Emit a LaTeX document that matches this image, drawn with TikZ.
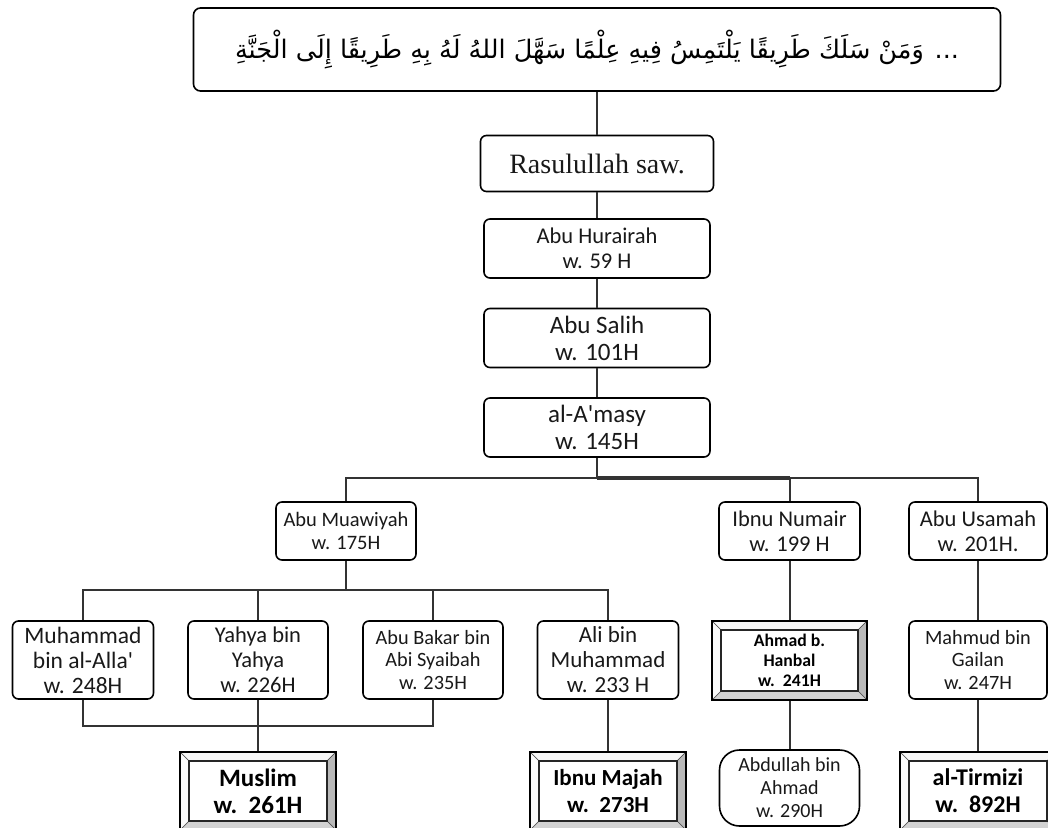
\documentclass[tikz,border=0pt]{standalone}
\usepackage{fontspec}
\setmainfont{Carlito}
\newfontfamily\timesfont{Liberation Serif}
\newfontfamily\arabicfont[Script=Arabic]{DejaVu Sans}
\TeXXeTstate=1
\usetikzlibrary{calc}
\tikzset{
  hadith/.style={draw, rounded corners=7pt, line width=1.6pt, fill=white, align=center, inner sep=0pt, text=black},
  perawi/.style={draw, rounded corners=6pt, line width=1.6pt, fill=white, align=center, inner sep=0pt, text=black!90},
  sanad/.style={perawi, minimum width=226pt, minimum height=59pt},
  tabiin/.style={perawi, minimum width=140pt, minimum height=58pt},
  guru/.style={perawi, minimum width=141pt, minimum height=78pt},
  oval/.style={perawi, rounded corners=20pt, minimum width=140pt, minimum height=76pt},
  mukharrij/.style={draw, line width=1.2pt, fill=white, align=center, inner sep=0pt, text=black, font=\bfseries,
    path picture={
      \coordinate (pnw) at (path picture bounding box.north west);
      \coordinate (pne) at (path picture bounding box.north east);
      \coordinate (pse) at (path picture bounding box.south east);
      \coordinate (psw) at (path picture bounding box.south west);
      \filldraw[fill=gray!6, draw=black!70, line width=0.6pt] (pnw) -- (pne) -- ([shift={(-9,9)}]pne) -- ([shift={(9,9)}]pnw) -- cycle;
      \filldraw[fill=gray!55, draw=black!70, line width=0.6pt] (pne) -- (pse) -- ([shift={(-9,-9)}]pse) -- ([shift={(-9,9)}]pne) -- cycle;
      \filldraw[fill=gray!35, draw=black!70, line width=0.6pt] (pse) -- (psw) -- ([shift={(9,-9)}]psw) -- ([shift={(-9,-9)}]pse) -- cycle;
      \filldraw[fill=gray!4, draw=black!70, line width=0.6pt] (psw) -- (pnw) -- ([shift={(9,9)}]pnw) -- ([shift={(9,-9)}]psw) -- cycle;
      \draw[line width=1.5pt, black!85] ([shift={(9,9)}]pnw) rectangle ([shift={(-9,-9)}]pse);
    }},
  link/.style={line width=2pt, draw=black!80}
}

\begin{document}
\begin{tikzpicture}[x=1pt,y=-1pt]
  \clip (0,0) rectangle (1048,827);
  \node[hadith, minimum width=807pt, minimum height=83pt, font=\arabicfont\fontsize{25.5}{30}\selectfont] (matan) at (597,49.5)
    {\beginR ... وَمَنْ سَلَكَ طَرِيقًا يَلْتَمِسُ فِيهِ عِلْمًا سَهَّلَ اللهُ لَهُ بِهِ طَرِيقًا إِلَى الْجَنَّةِ\endR};

  \node[perawi, minimum width=233pt, minimum height=56pt, font=\timesfont\fontsize{28}{31}\selectfont] (rasul) at (597,163.5) {Rasulullah saw.};
  \node[sanad, font=\fontsize{22.5}{25}\selectfont] (hurairah) at (597,248.5) {Abu Hurairah\\w. 59 H};
  \node[sanad, font=\fontsize{25}{27}\selectfont] (salih) at (597,338) {Abu Salih\\w. 101H};
  \node[sanad, font=\fontsize{25}{27}\selectfont] (amasy) at (597,427.5) {al-A\textquotesingle masy\\w. 145H};

  \coordinate (cabang) at (597,478);
  \node[tabiin, font=\fontsize{20.5}{23}\selectfont] (muawiyah) at (346,531) {Abu Muawiyah\\w. 175H};
  \node[tabiin, minimum width=141pt, font=\fontsize{22.5}{25}\selectfont] (numair) at (789.5,531) {Ibnu Numair\\w. 199 H};
  \node[tabiin, minimum width=138pt, font=\fontsize{22.5}{25}\selectfont] (usamah) at (978,531) {Abu Usamah\\w. 201H.};

  \coordinate (cabangb) at (346,590);
  \node[guru, font=\fontsize{23.5}{25}\selectfont] (alla) at (83,660) {Muhammad\\bin al-Alla\textquotesingle\\w. 248H};
  \node[guru, minimum width=140pt, font=\fontsize{22.5}{25}\selectfont] (yahya) at (258,660) {Yahya bin\\Yahya\\w. 226H};
  \node[guru, minimum width=140pt, font=\fontsize{20.3}{22.5}\selectfont] (syaibah) at (433,660) {Abu Bakar bin\\Abi Syaibah\\w. 235H};
  \node[guru, font=\fontsize{23}{25}\selectfont] (ali) at (608,660) {Ali bin\\Muhammad\\w. 233 H};
  \node[mukharrij, minimum width=155pt, minimum height=79pt, font=\bfseries\fontsize{17.7}{20}\selectfont] (hanbal) at (789.5,660.5) {Ahmad b.\\Hanbal\\w.~~241H};
  \node[guru, minimum width=138pt, font=\fontsize{20.3}{22.5}\selectfont] (mahmud) at (978,660) {Mahmud bin\\Gailan\\w. 247H};

  \coordinate (gabung) at (258,726);
  \node[mukharrij, minimum width=156pt, minimum height=78pt, font=\bfseries\fontsize{25}{27}\selectfont] (muslim) at (258,791) {Muslim\\w.~~261H};
  \node[mukharrij, minimum width=156pt, minimum height=78pt, font=\bfseries\fontsize{23}{27}\selectfont] (majah) at (608,791) {Ibnu Majah\\w.~~273H};
  \node[oval, font=\fontsize{20}{23}\selectfont] (abdullah) at (789.5,788) {Abdullah bin\\Ahmad\\w. 290H};
  \node[mukharrij, minimum width=156pt, minimum height=78pt, font=\bfseries\fontsize{24}{27}\selectfont] (tirmizi) at (978,791) {al-Tirmizi\\w.~~892H};

  \draw[link] (matan.south) -- (rasul.north);
  \draw[link] (rasul.south) -- (hurairah.north);
  \draw[link] (hurairah.south) -- (salih.north);
  \draw[link] (salih.south) -- (amasy.north);
  \draw[link, line width=2.8pt] (amasy.south) -- (cabang);
  \draw[link] (cabang) -| (muawiyah.north);
  \draw[link] (cabang) -| (numair.north);
  \draw[link] (cabang) -| (usamah.north);
  \draw[link, line width=3.2pt] (cabang) -- (cabang -| numair.north);
  \draw[link] (muawiyah.south) -- (cabangb);
  \draw[link] (cabangb) -| (alla.north);
  \draw[link] (cabangb) -| (yahya.north);
  \draw[link] (cabangb) -| (syaibah.north);
  \draw[link] (cabangb) -| (ali.north);
  \draw[link] (alla.south) |- (gabung);
  \draw[link] (syaibah.south) |- (gabung);
  \draw[link] (yahya.south) -- (muslim.north);
  \draw[link] (ali.south) -- (majah.north);
  \draw[link] (numair.south) -- (hanbal.north);
  \draw[link] (hanbal.south) -- (abdullah.north);
  \draw[link] (usamah.south) -- (mahmud.north);
  \draw[link] (mahmud.south) -- (tirmizi.north);
\end{tikzpicture}
\end{document}
